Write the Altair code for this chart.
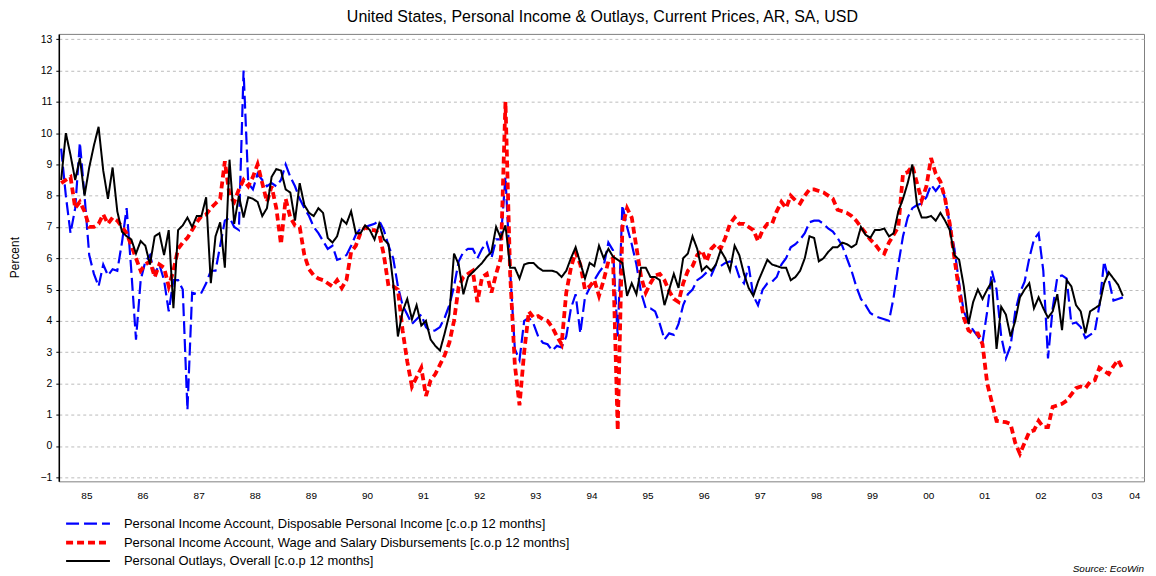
import altair as alt
import pandas as pd

# ---------------- data (monthly, Jan 1985 .. Dec 2003, % change over 12 months) ----------------
SERIES = [
    "Personal Income Account, Disposable Personal Income [c.o.p 12 months]",
    "Personal Income Account, Wage and Salary Disbursements [c.o.p 12 months]",
    "Personal Outlays, Overall [c.o.p 12 months]",
]
START_YEAR = 1985

disposable_income = [
    9.5, 8.0, 6.8, 7.6, 9.7, 8.0, 6.1, 5.5, 5.1, 5.8, 5.45, 5.65,      # 1985
    5.6, 6.5, 7.6, 5.6, 3.4, 5.3, 5.9, 6.1, 5.5, 5.8, 5.3, 4.3,        # 1986
    5.3, 5.3, 5.0, 1.15, 4.9, 4.85, 4.9, 5.2, 5.6, 5.6, 6.4, 7.2,      # 1987
    7.3, 7.0, 6.9, 12.0, 8.4, 8.2, 8.7, 8.5, 8.3, 8.4, 8.3, 8.5,       # 1988
    9.0, 8.6, 8.3, 7.9, 7.6, 7.35, 7.0, 6.8, 6.55, 6.3, 6.4, 5.95,     # 1989
    6.0, 6.1, 6.4, 6.75, 6.95, 7.0, 7.05, 7.1, 7.2, 6.9, 6.4, 6.0,     # 1990
    5.1, 4.5, 4.2, 3.9, 4.05, 4.2, 3.8, 3.65, 3.7, 3.8, 4.1, 4.5,      # 1991
    5.1, 5.9, 6.2, 6.3, 6.3, 6.0, 6.3, 6.5, 6.0, 6.6, 6.6, 8.6,        # 1992
    5.6, 3.1, 2.75, 4.0, 4.1, 3.9, 3.5, 3.3, 3.25, 3.05, 3.2, 3.15,    # 1993
    3.5, 4.4, 4.85, 3.6, 4.75, 5.05, 5.3, 5.55, 5.75, 6.5, 6.25, 3.5,  # 1994
    7.7, 7.0, 6.45, 5.8, 4.9, 4.4, 4.4, 4.3, 3.9, 3.4, 3.6, 3.55,      # 1995
    3.9, 4.5, 4.85, 5.0, 5.3, 5.4, 5.55, 5.45, 5.8, 5.75, 5.85, 5.9,   # 1996
    5.85, 5.4, 5.2, 5.75, 4.8, 4.5, 5.0, 5.2, 5.25, 5.4, 5.8, 6.0,     # 1997
    6.35, 6.45, 6.6, 6.8, 7.15, 7.2, 7.2, 7.1, 6.95, 6.85, 6.65, 6.4,  # 1998
    6.0, 5.6, 5.1, 4.7, 4.5, 4.25, 4.15, 4.1, 4.05, 4.0, 4.75, 5.8,    # 1999
    6.7, 7.3, 7.6, 7.7, 7.75, 7.95, 8.35, 8.15, 8.35, 7.9, 7.1, 6.3,   # 2000
    5.2, 4.3, 3.95, 3.7, 3.5, 3.3, 4.3, 5.6, 5.0, 3.5, 2.8, 3.2,       # 2001
    4.3, 4.9, 5.25, 6.0, 6.6, 6.8, 5.6, 2.8, 4.4, 5.4, 5.45, 5.35,     # 2002
    3.9, 3.95, 3.8, 3.45, 3.55, 3.65, 4.5, 5.9, 5.3, 4.65, 4.7, 4.75,  # 2003
]

wage_salary = [
    8.4, 8.5, 8.6, 7.6, 7.8, 7.5, 7.0, 7.0, 7.1, 7.4, 7.1, 7.3,        # 1985
    7.2, 7.0, 6.8, 6.4, 6.0, 5.6, 5.8, 5.9, 5.4, 5.8, 5.7, 5.1,        # 1986
    5.6, 6.3, 6.5, 6.65, 6.9, 7.15, 7.35, 7.4, 7.6, 7.75, 7.9, 9.1,    # 1987
    8.0, 7.8, 8.2, 8.5, 8.3, 8.6, 9.0, 8.4, 7.8, 8.3, 7.6, 6.45,       # 1988
    7.9, 7.3, 7.05, 7.0, 6.1, 5.65, 5.45, 5.35, 5.3, 5.2, 5.1, 5.3,    # 1989
    5.05, 5.3, 6.2, 6.4, 6.8, 7.0, 6.9, 6.9, 6.8, 6.1, 5.1, 5.1,       # 1990
    5.0, 3.7, 2.7, 1.9, 2.2, 2.5, 1.6, 2.1, 2.3, 2.6, 2.9, 3.3,        # 1991
    4.0, 5.1, 5.4, 5.5, 5.6, 4.6, 5.4, 5.5, 4.9, 5.5, 6.0, 11.0,       # 1992
    5.5, 2.6, 1.3, 3.0, 4.3, 4.1, 4.15, 4.05, 4.0, 3.8, 3.5, 3.25,     # 1993
    4.9, 5.7, 6.2, 5.8, 5.0, 5.1, 5.3, 4.8, 5.3, 5.9, 6.0, 0.5,        # 1994
    7.0, 7.6, 7.3, 6.35, 5.4, 4.9, 5.2, 5.45, 5.5, 5.3, 4.95, 4.7,     # 1995
    4.6, 5.2, 5.6, 5.75, 6.1, 6.25, 5.9, 6.3, 6.45, 6.3, 6.65, 7.1,    # 1996
    7.3, 7.1, 7.1, 7.0, 6.9, 6.55, 6.9, 7.1, 7.1, 7.5, 7.8, 7.6,       # 1997
    8.0, 7.85, 7.75, 8.0, 8.2, 8.2, 8.15, 8.1, 8.0, 7.9, 7.55, 7.5,    # 1998
    7.45, 7.35, 7.2, 7.0, 6.8, 6.6, 6.45, 6.25, 6.15, 6.5, 6.75, 7.0,  # 1999
    8.7, 8.75, 8.95, 8.4, 7.85, 8.3, 9.2, 8.7, 8.45, 7.9, 7.1, 6.0,    # 2000
    4.95, 4.1, 3.7, 3.6, 3.6, 3.25, 2.0, 1.4, 0.8, 0.78, 0.76, 0.7,    # 2001
    0.1, -0.25, 0.1, 0.45, 0.5, 0.8, 0.6, 0.6, 1.25, 1.3, 1.35, 1.45,  # 2002
    1.65, 1.85, 1.9, 1.85, 2.05, 2.1, 2.5, 2.4, 2.3, 2.55, 2.75, 2.45, # 2003
]

outlays = [
    8.5, 10.0, 9.3, 8.5, 9.2, 8.0, 8.9, 9.6, 10.2, 8.8, 7.9, 8.9,      # 1985
    7.5, 6.85, 6.7, 6.6, 6.15, 6.55, 6.4, 5.8, 6.7, 6.8, 6.1, 6.9,     # 1986
    4.4, 6.9, 7.05, 7.3, 7.0, 7.35, 7.35, 7.95, 5.2, 6.7, 7.15, 5.7,   # 1987
    9.15, 7.1, 8.0, 7.3, 7.95, 7.9, 7.8, 7.35, 7.6, 8.6, 8.85, 8.8,    # 1988
    8.2, 8.1, 7.2, 8.4, 7.7, 7.45, 7.35, 7.6, 7.45, 6.65, 6.5, 6.7,    # 1989
    7.25, 7.1, 7.5, 6.8, 6.8, 7.05, 6.9, 6.6, 7.1, 6.6, 6.45, 5.2,     # 1990
    3.5, 4.3, 4.7, 4.05, 4.5, 3.85, 4.0, 3.4, 3.2, 3.05, 3.6, 4.2,     # 1991
    6.15, 5.8, 4.85, 5.4, 5.55, 5.7, 5.85, 6.05, 6.2, 7.0, 6.65, 7.05, # 1992
    5.7, 5.7, 5.35, 5.8, 5.85, 5.85, 5.7, 5.6, 5.6, 5.6, 5.55, 5.4,    # 1993
    5.6, 6.0, 6.35, 5.85, 5.35, 5.85, 5.75, 6.4, 6.0, 6.3, 6.05, 5.95, # 1994
    5.85, 4.8, 5.2, 4.85, 5.7, 5.7, 5.4, 5.4, 5.3, 4.5, 5.0, 5.5,      # 1995
    5.05, 6.0, 6.15, 6.7, 6.3, 5.6, 5.75, 5.6, 5.8, 6.25, 6.0, 5.6,    # 1996
    6.4, 6.1, 5.5, 5.05, 4.8, 5.25, 5.6, 5.95, 5.8, 5.75, 5.7, 5.7,    # 1997
    5.3, 5.4, 5.6, 6.0, 6.7, 6.65, 5.9, 6.0, 6.2, 6.35, 6.35, 6.5,     # 1998
    6.45, 6.35, 6.45, 7.0, 6.75, 6.65, 6.9, 6.9, 6.95, 6.7, 6.8, 7.5,  # 1999
    7.9, 8.4, 9.0, 7.7, 7.3, 7.3, 7.35, 7.2, 7.45, 7.2, 6.9, 6.1,      # 2000
    5.95, 5.1, 3.9, 4.6, 5.0, 4.7, 5.0, 5.25, 3.1, 4.45, 4.2, 3.5,     # 2001
    4.0, 4.75, 5.0, 5.2, 4.4, 4.75, 4.4, 4.1, 4.3, 4.85, 3.7, 5.3,     # 2002
    5.1, 4.5, 4.3, 3.6, 4.3, 4.4, 4.5, 5.2, 5.55, 5.35, 5.15, 4.8,     # 2003
]

tick_years = list(range(1985, 2005))
year_labels = ["85", "86", "87", "88", "89", "90", "91", "92", "93", "94",
               "95", "96", "97", "98", "99", "00", "01", "02", "03", "04"]
y_ticks = list(range(-1, 14))

subtitle = "United States, Personal Income & Outlays, Current Prices, AR, SA, USD"
y_title = "Percent"
source_note = "Source: EcoWin"

COLORS = ["#0000ff", "#ff0000", "#000000"]
DASHES = [[13, 5], [7, 4], [1, 0]]
WIDTHS = [2.2, 3.8, 2.0]

# ---------------- tables ----------------
rows = []
for name, vals in zip(SERIES, [disposable_income, wage_salary, outlays]):
    for i, v in enumerate(vals):
        rows.append({"t": START_YEAR + (i + 0.5) / 12.0, "v": v, "series": name})
df = pd.DataFrame(rows)

label_pos = [y + 0.5 for y in tick_years[:-1]] + [tick_years[-1] + 0.17]
df_labels = pd.DataFrame({"pos": label_pos, "lab": year_labels})

W, H = 1089, 449
FONT = "Liberation Sans"

xs = alt.Scale(domain=[1985, 2004.336], nice=False, zero=False)
ys = alt.Scale(domain=[-1.13, 13.17], nice=False, zero=False)

# wide, flat custom stroke symbol: path is scaled by sqrt(size)/2
legend = alt.Legend(
    title=None, orient="none", legendX=21.8, legendY=484.5,
    symbolType="M-4,0H4", symbolSize=121, labelFontSize=13, labelFont=FONT,
    labelColor="#000000", labelLimit=0, rowPadding=3.5, labelOffset=28.5,
    padding=0, direction="vertical", symbolFillColor="transparent",
)

lines = alt.Chart(df).mark_line(clip=True, strokeCap="butt").encode(
    x=alt.X("t:Q", scale=xs, axis=alt.Axis(
        values=tick_years, labels=False, title=None, tickSize=5, tickColor="#000000",
        domainColor="#000000", domainWidth=1.5, grid=True, gridDash=[3, 3],
        gridColor="#bcbcbc", gridWidth=1)),
    y=alt.Y("v:Q", scale=ys, axis=alt.Axis(
        values=y_ticks, title=None, tickSize=3, tickColor="#000000",
        domainColor="#000000", domainWidth=1.5, labelFontSize=10.5, labelFont=FONT,
        labelColor="#000000", labelPadding=4, grid=True, gridDash=[3, 3],
        gridColor="#bcbcbc", gridWidth=1)),
    color=alt.Color("series:N", scale=alt.Scale(domain=SERIES, range=COLORS), legend=legend),
    strokeDash=alt.StrokeDash("series:N", scale=alt.Scale(domain=SERIES, range=DASHES), legend=legend),
    strokeWidth=alt.StrokeWidth("series:N", scale=alt.Scale(type="ordinal", domain=SERIES, range=WIDTHS), legend=legend),
)

year_text = alt.Chart(df_labels).mark_text(fontSize=10, font=FONT, baseline="middle", color="#000000").encode(
    x=alt.X("pos:Q", scale=xs, axis=None),
    y=alt.value(H + 15),
    text="lab:N",
)

title_text = alt.Chart(pd.DataFrame({"s": [subtitle]})).mark_text(
    fontSize=16, font=FONT, baseline="middle", color="#000000").encode(
    x=alt.value(W / 2 + 1), y=alt.value(-17), text="s:N")

ytitle_text = alt.Chart(pd.DataFrame({"s": [y_title]})).mark_text(
    fontSize=12, font=FONT, baseline="middle", angle=270, color="#000000").encode(
    x=alt.value(-44), y=alt.value(H / 2), text="s:N")

source_text = alt.Chart(pd.DataFrame({"s": [source_note]})).mark_text(
    fontSize=10, font=FONT, fontStyle="italic", align="right", baseline="middle",
    color="#000000").encode(
    x=alt.value(W), y=alt.value(H + 88), text="s:N")

chart = alt.layer(lines, year_text, title_text, ytitle_text, source_text).properties(
    width=W, height=H,
    autosize=alt.AutoSizeParams(type="none"),
    padding={"left": 51, "top": 25, "right": 4, "bottom": 92},
).configure_view(stroke="#808080", strokeWidth=1).configure_axis(labelFont=FONT)

chart.save("out.html", embed_options={"renderer": "svg", "actions": False})
